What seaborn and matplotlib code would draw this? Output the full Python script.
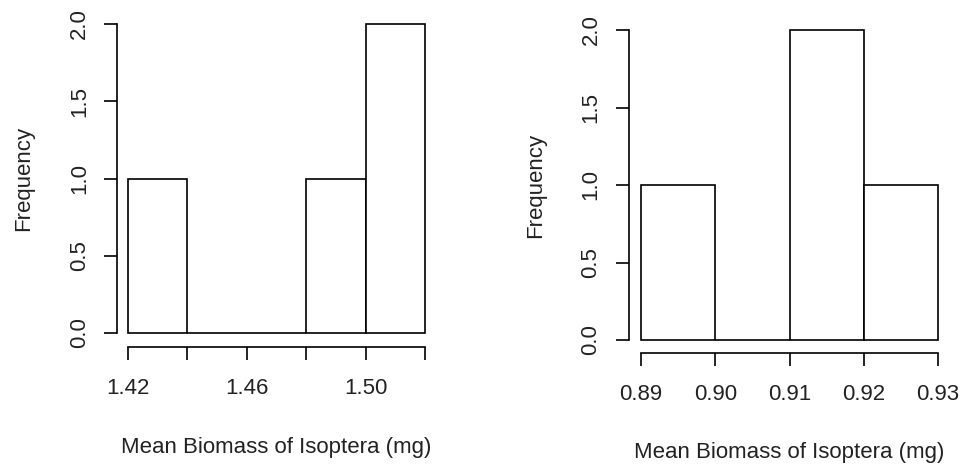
import matplotlib
matplotlib.use("Agg")
import matplotlib.pyplot as plt
import numpy as np
import pandas as pd
import seaborn as sns

# Datos: biomasa media de Isoptera (mg) en dos sitios
biomasa_a = [1.43, 1.49, 1.505, 1.515]
bins_a = [1.42, 1.44, 1.46, 1.48, 1.50, 1.52]
ticks_a = [1.42, 1.44, 1.46, 1.48, 1.50, 1.52]
etiquetas_a = ["1.42", "", "1.46", "", "1.50", ""]

biomasa_b = [0.895, 0.915, 0.915, 0.925]
bins_b = [0.89, 0.90, 0.91, 0.92, 0.93]
ticks_b = [0.89, 0.90, 0.91, 0.92, 0.93]
etiquetas_b = ["0.89", "0.90", "0.91", "0.92", "0.93"]

y_ticks = [0.0, 0.5, 1.0, 1.5, 2.0]

sns.set_style("white")
plt.rcParams['font.family'] = ['Liberation Sans', 'DejaVu Sans']
texto = '#222222'
tam = 16

fig = plt.figure(figsize = (9.65, 4.68), dpi = 100)

def estilo_r(ax, xticks, xlabels, out_x, out_y):
    ax.set_ylim(0, 2)
    ax.set_yticks(y_ticks)
    ax.set_yticklabels([f"{v:.1f}" for v in y_ticks])
    ax.set_xticks(xticks)
    ax.set_xticklabels(xlabels)
    for s in ['top', 'right']:
        ax.spines[s].set_visible(False)
    ax.spines['left'].set_position(('outward', out_y))
    ax.spines['bottom'].set_position(('outward', out_x))
    ax.spines['left'].set_bounds(0, 2)
    ax.spines['bottom'].set_bounds(xticks[0], xticks[-1])
    for s in ['left', 'bottom']:
        ax.spines[s].set_linewidth(1.2)
        ax.spines[s].set_color('black')
    ax.tick_params(axis = 'both', direction = 'out', length = 9.5, width = 1.2,
                   bottom = True, left = True,
                   colors = 'black', labelcolor = texto, labelsize = tam)
    ax.tick_params(axis = 'x', pad = 13)
    ax.tick_params(axis = 'y', pad = 10, labelrotation = 90)
    for lab in ax.get_yticklabels():
        lab.set_va('center')
    ax.set_xlabel("Mean Biomass of Isoptera (mg)", fontsize = tam, color = texto, labelpad = 27)
    ax.set_ylabel("Frequency", fontsize = tam, color = texto, labelpad = 25)
    for p in ax.patches:
        p.set_clip_on(False)

ax1 = fig.add_axes([128 / 965, 1 - 333 / 468, 297 / 965, 309 / 468])
sns.histplot(x = biomasa_a, bins = bins_a, ax = ax1, color = 'white', edgecolor = 'black',
             linewidth = 1.2, alpha = 1)
ax1.set_xlim(bins_a[0], bins_a[-1])
estilo_r(ax1, ticks_a, etiquetas_a, 10, 8)

ax2 = fig.add_axes([641 / 965, 1 - 340 / 468, 297 / 965, 310 / 468])
sns.histplot(x = biomasa_b, bins = bins_b, ax = ax2, color = 'white', edgecolor = 'black',
             linewidth = 1.2, alpha = 1)
ax2.set_xlim(bins_b[0], bins_b[-1])
estilo_r(ax2, ticks_b, etiquetas_b, 9, 9)

plt.savefig("out.png", dpi = 100)
